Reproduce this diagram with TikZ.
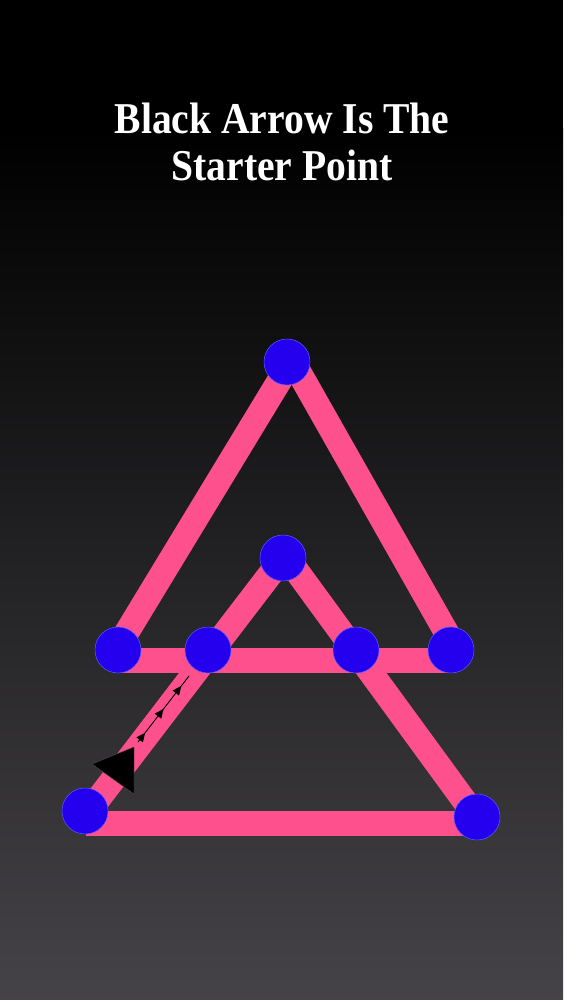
\documentclass[tikz,border=0pt]{standalone}
\usepackage{fontspec}
\newfontfamily\titlefont[FakeStretch=0.9]{Liberation Serif}
\usetikzlibrary{arrows.meta,decorations.markings}
\definecolor{pinkbar}{RGB}{255,80,142}
\definecolor{dotblue}{RGB}{36,0,238}
\definecolor{dotrim}{RGB}{90,90,255}
\definecolor{bgbottom}{RGB}{69,67,71}
\begin{document}
\begin{tikzpicture}[x=1pt,y=-1pt,
  bar/.style={draw=pinkbar,line width=25pt,line cap=butt},
  dot/.style={circle,fill=dotblue,draw=dotrim,line width=0.5pt,minimum size=46pt,inner sep=0pt},
  titletext/.style={text=white,align=center,font=\titlefont\bfseries\fontsize{44}{47}\selectfont},
  pathline/.style={draw=black,line width=0.9pt,
    postaction={decorate},
    decoration={markings,
      mark=at position 0.14 with {\arrow{Triangle[length=9pt,width=8pt]}},
      mark=at position 0.50 with {\arrow{Triangle[length=9pt,width=8pt]}},
      mark=at position 0.85 with {\arrow{Triangle[length=9pt,width=8pt]}}}}
]
\useasboundingbox (0,0) rectangle (563,1000);
\fill[black] (0,0) rectangle (563,130);
\shade[top color=black,bottom color=bgbottom] (0,129) rectangle (563,1000);

% title
\node[titletext] (title) at (282,142) {Black Arrow Is The\\Starter Point};

% stroke end points
\coordinate (oA) at (292,360);
\coordinate (oL) at (110,660);
\coordinate (oR) at (462,660);
\coordinate (mL) at (114,660);
\coordinate (mR) at (456,660);
\coordinate (iA) at (285,555);
\coordinate (iL) at (86,815);
\coordinate (iR) at (477,818);
\coordinate (bL) at (86,823);
\coordinate (bR) at (477,823);

% pink strokes
\draw[bar] (oA) -- (oL);
\draw[bar] (oA) -- (oR);
\draw[bar] (mL) -- (mR);
\draw[bar] (iA) -- (iL);
\draw[bar] (iA) -- (iR);
\draw[bar] (bL) -- (bR);

% dots
\node[dot] (top) at (287,362) {};
\node[dot] (inner) at (283,558) {};
\node[dot] (m1) at (118,650) {};
\node[dot] (m2) at (208,650) {};
\node[dot] (m3) at (356,650) {};
\node[dot] (m4) at (451,650) {};
\node[dot] (b1) at (85,811) {};
\node[dot] (b2) at (477,817) {};

% starter arrow
\coordinate (t1) at (92,764);
\coordinate (t2) at (134,747);
\coordinate (t3) at (134,794);
\fill[black,draw=gray!60!black,line width=0.4pt] (t1) -- (t2) -- (t3) -- cycle;

\coordinate (s0) at (138,742);
\coordinate (s1) at (189,676);
\draw[pathline] (s0) -- (s1);
\end{tikzpicture}
\end{document}
